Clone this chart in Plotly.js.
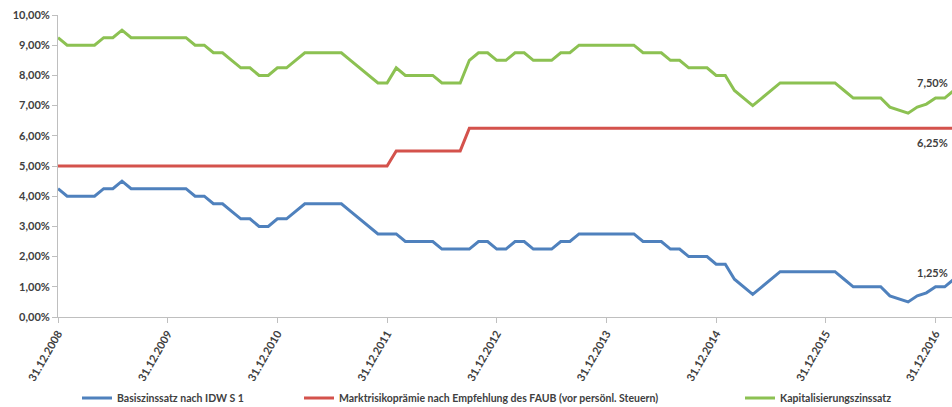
<!DOCTYPE html>
<html><head><meta charset="utf-8">
<script src="https://cdn.plot.ly/plotly-3.0.1.min.js"></script>
<style>html,body{margin:0;padding:0;background:#fff}#chart{width:952px;height:407px}</style>
</head><body><div id="chart"></div>
<script>
const months = [
 "31.12.2008",
 "31.01.2009","28.02.2009","31.03.2009","30.04.2009","31.05.2009","30.06.2009","31.07.2009","31.08.2009","30.09.2009","31.10.2009","30.11.2009","31.12.2009",
 "31.01.2010","28.02.2010","31.03.2010","30.04.2010","31.05.2010","30.06.2010","31.07.2010","31.08.2010","30.09.2010","31.10.2010","30.11.2010","31.12.2010",
 "31.01.2011","28.02.2011","31.03.2011","30.04.2011","31.05.2011","30.06.2011","31.07.2011","31.08.2011","30.09.2011","31.10.2011","30.11.2011","31.12.2011",
 "31.01.2012","29.02.2012","31.03.2012","30.04.2012","31.05.2012","30.06.2012","31.07.2012","31.08.2012","30.09.2012","31.10.2012","30.11.2012","31.12.2012",
 "31.01.2013","28.02.2013","31.03.2013","30.04.2013","31.05.2013","30.06.2013","31.07.2013","31.08.2013","30.09.2013","31.10.2013","30.11.2013","31.12.2013",
 "31.01.2014","28.02.2014","31.03.2014","30.04.2014","31.05.2014","30.06.2014","31.07.2014","31.08.2014","30.09.2014","31.10.2014","30.11.2014","31.12.2014",
 "31.01.2015","28.02.2015","31.03.2015","30.04.2015","31.05.2015","30.06.2015","31.07.2015","31.08.2015","30.09.2015","31.10.2015","30.11.2015","31.12.2015",
 "31.01.2016","29.02.2016","31.03.2016","30.04.2016","31.05.2016","30.06.2016","31.07.2016","31.08.2016","30.09.2016","31.10.2016","30.11.2016","31.12.2016",
 "31.01.2017","28.02.2017"
];

const basiszins = [
 4.25,4.0,4.0,4.0,4.0,4.25,4.25,4.5,4.25,4.25,
 4.25,4.25,4.25,4.25,4.25,4.0,4.0,3.75,3.75,3.5,
 3.25,3.25,3.0,3.0,3.25,3.25,3.5,3.75,3.75,3.75,
 3.75,3.75,3.5,3.25,3.0,2.75,2.75,2.75,2.5,2.5,
 2.5,2.5,2.25,2.25,2.25,2.25,2.5,2.5,2.25,2.25,
 2.5,2.5,2.25,2.25,2.25,2.5,2.5,2.75,2.75,2.75,
 2.75,2.75,2.75,2.75,2.5,2.5,2.5,2.25,2.25,2.0,
 2.0,2.0,1.75,1.75,1.25,1.0,0.75,1.0,1.25,1.5,
 1.5,1.5,1.5,1.5,1.5,1.5,1.25,1.0,1.0,1.0,
 1.0,0.7,0.6,0.5,0.7,0.8,1.0,1.0,1.25
];

const marktrisikopraemie = [
 5,5,5,5,5,5,5,5,5,5,
 5,5,5,5,5,5,5,5,5,5,
 5,5,5,5,5,5,5,5,5,5,
 5,5,5,5,5,5,5,5.5,5.5,5.5,
 5.5,5.5,5.5,5.5,5.5,6.25,6.25,6.25,6.25,6.25,
 6.25,6.25,6.25,6.25,6.25,6.25,6.25,6.25,6.25,6.25,
 6.25,6.25,6.25,6.25,6.25,6.25,6.25,6.25,6.25,6.25,
 6.25,6.25,6.25,6.25,6.25,6.25,6.25,6.25,6.25,6.25,
 6.25,6.25,6.25,6.25,6.25,6.25,6.25,6.25,6.25,6.25,
 6.25,6.25,6.25,6.25,6.25,6.25,6.25,6.25,6.25
];

const kapitalisierungszins = [
 9.25,9.0,9.0,9.0,9.0,9.25,9.25,9.5,9.25,9.25,
 9.25,9.25,9.25,9.25,9.25,9.0,9.0,8.75,8.75,8.5,
 8.25,8.25,8.0,8.0,8.25,8.25,8.5,8.75,8.75,8.75,
 8.75,8.75,8.5,8.25,8.0,7.75,7.75,8.25,8.0,8.0,
 8.0,8.0,7.75,7.75,7.75,8.5,8.75,8.75,8.5,8.5,
 8.75,8.75,8.5,8.5,8.5,8.75,8.75,9.0,9.0,9.0,
 9.0,9.0,9.0,9.0,8.75,8.75,8.75,8.5,8.5,8.25,
 8.25,8.25,8.0,8.0,7.5,7.25,7.0,7.25,7.5,7.75,
 7.75,7.75,7.75,7.75,7.75,7.75,7.5,7.25,7.25,7.25,
 7.25,6.95,6.85,6.75,6.95,7.05,7.25,7.25,7.5
];

const yearTicks = ["31.12.2008","31.12.2009","31.12.2010","31.12.2011","31.12.2012","31.12.2013","31.12.2014","31.12.2015","31.12.2016"];

const seriesNames = ["Basiszinssatz nach IDW S 1","Marktrisikoprämie nach Empfehlung des FAUB (vor persönl. Steuern)","Kapitalisierungszinssatz"];

const FONT = "Lato, 'Open Sans', sans-serif";
const TXT = "#404040";
const AX = "#bfbfbf";

function fmt(v){ return v.toFixed(2).replace('.', ',') + '%'; }
const last = arr => arr[arr.length-1];

const traces = [
 {x: months, y: basiszins, name: seriesNames[0], type:'scatter', mode:'lines',
  line:{color:'#4f81bd', width:3}, legend:'legend'},
 {x: months, y: marktrisikopraemie, name: seriesNames[1], type:'scatter', mode:'lines',
  line:{color:'#d4524c', width:3}, legend:'legend2'},
 {x: months, y: kapitalisierungszins, name: seriesNames[2], type:'scatter', mode:'lines',
  line:{color:'#8cc152', width:3}, legend:'legend3'}
];

const legFont = {family: FONT, size: 10.5, color: TXT, weight: 'bold'};
function leg(xpx){
  return {orientation:'h', xref:'container', yref:'container', x: xpx/952, y: 1-398/407,
          xanchor:'left', yanchor:'middle', font: legFont, bgcolor:'rgba(0,0,0,0)', borderwidth:0};
}

const layout = {
 width: 952, height: 407,
 margin: {l:58, r:0, t:15, b:90},
 paper_bgcolor:'#fff', plot_bgcolor:'#fff',
 separators: ',.',
 font: {family: FONT, size: 11, color: TXT},
 showlegend: true,
 legend: leg(77), legend2: leg(299), legend3: leg(740),
 xaxis: {type:'category', range:[0, 97.8], tickmode:'array', tickvals: yearTicks, ticktext: yearTicks,
         tickangle:-60, ticks:'outside', ticklen:5, tickcolor:AX, showline:true, linecolor:AX, linewidth:1,
         showgrid:false, zeroline:false, tickfont:{family:FONT, size:11, color:TXT, weight:'bold'}},
 yaxis: {range:[0,10], dtick:1, tick0:0, tickformat:'.2f', ticksuffix:'%', ticks:'outside', ticklen:5,
         tickcolor:AX, showline:true, linecolor:AX, linewidth:1, showgrid:false, zeroline:false,
         tickfont:{family:FONT, size:11, color:TXT, weight:'bold'}},
 annotations: [
  {xref:'paper', x:1, xanchor:'right', xshift:-2, yref:'y', y:last(kapitalisierungszins), yshift:8, yanchor:'middle',
   text: fmt(last(kapitalisierungszins)), showarrow:false, font:{family:FONT, size:11, color:TXT, weight:'bold'}},
  {xref:'paper', x:1, xanchor:'right', xshift:-2, yref:'y', y:last(marktrisikopraemie), yshift:-14, yanchor:'middle',
   text: fmt(last(marktrisikopraemie)), showarrow:false, font:{family:FONT, size:11, color:TXT, weight:'bold'}},
  {xref:'paper', x:1, xanchor:'right', xshift:-2, yref:'y', y:last(basiszins), yshift:7, yanchor:'middle',
   text: fmt(last(basiszins)), showarrow:false, font:{family:FONT, size:11, color:TXT, weight:'bold'}}
 ]
};

Plotly.newPlot('chart', traces, layout, {displayModeBar:false, staticPlot:true});
</script>
</body></html>
